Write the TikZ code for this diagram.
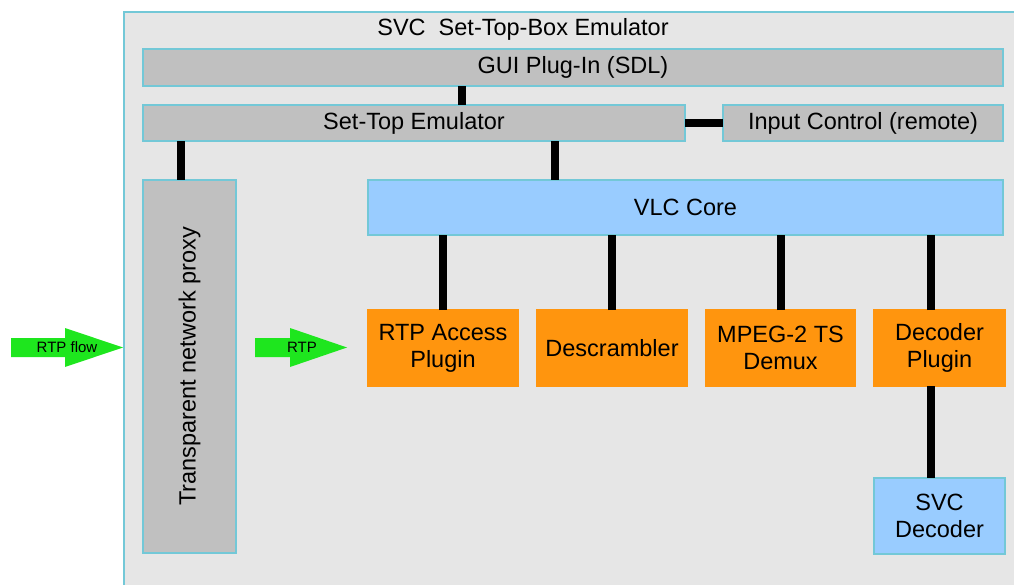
\documentclass[tikz,border=0pt]{standalone}
\usepackage{fontspec}
\setmainfont{Liberation Sans}
\usetikzlibrary{positioning}

\definecolor{bggray}{RGB}{230,230,230}
\definecolor{framecyan}{RGB}{115,200,215}
\definecolor{boxgray}{RGB}{192,192,192}
\definecolor{coreblue}{RGB}{153,204,255}
\definecolor{plugorange}{RGB}{255,149,14}
\definecolor{flowgreen}{RGB}{30,230,30}

\tikzset{
  block/.style={draw=framecyan,line width=1.2pt,inner sep=0pt,outer sep=0pt,align=center,
    font=\fontsize{23.5}{27}\selectfont},
  grayblock/.style={block,fill=boxgray},
  blueblock/.style={block,fill=coreblue},
  plugblock/.style={block,draw=plugorange,fill=plugorange},
  link/.style={line width=8pt},
  flow/.style={fill=flowgreen},
  flowtext/.style={font=\fontsize{15}{15}\selectfont}
}

\begin{document}
\begin{tikzpicture}[x=1pt,y=-1pt]
  \useasboundingbox (0,0) rectangle (1014,585);

  % Emulator frame
  \node [draw=framecyan,line width=1.2pt,fill=bggray,inner sep=0pt,outer sep=0pt,
    minimum width=906pt,minimum height=588pt,anchor=north west] (stb) at (124,12) {};
  \node [font=\fontsize{23.5}{27}\selectfont] (title) at (523,29) {SVC~~Set-Top-Box Emulator};

  % Upper layers
  \node [grayblock,minimum width=860pt,minimum height=37pt,anchor=north west] (gui) at (143,49) {GUI Plug-In (SDL)};
  \node [grayblock,minimum width=542pt,minimum height=36pt,below=19pt of gui.south west,anchor=north west] (settop) {Set-Top Emulator};
  \node [grayblock,minimum width=280pt,minimum height=36pt,right=38pt of settop] (input) {Input Control (remote)};

  % Proxy
  \node [grayblock,minimum width=93pt,minimum height=373pt,below=39pt of settop.south west,anchor=north west] (proxy) {};
  \node [rotate=90,font=\fontsize{23.5}{27}\selectfont] (proxylabel) at (proxy) {Transparent network proxy};

  % VLC
  \node [blueblock,minimum width=635pt,minimum height=55pt,right=132pt of proxy.north east,anchor=north west] (vlc) {VLC Core};
  \node [plugblock,minimum width=150pt,minimum height=76pt,below=75pt of vlc.south west,anchor=north west] (access) {RTP Access\\Plugin};
  \node [plugblock,minimum width=150pt,minimum height=76pt,right=19pt of access] (descr) {Descrambler};
  \node [plugblock,minimum width=149pt,minimum height=76pt,right=19pt of descr] (demux) {MPEG-2 TS\\Demux};
  \node [plugblock,minimum width=131pt,minimum height=76pt,right=19pt of demux] (decoder) {Decoder\\Plugin};
  \node [blueblock,minimum width=131pt,minimum height=76pt,below=92pt of decoder] (svc) {SVC\\Decoder};

  % Links
  \draw [link] ([xshift=319pt]settop.north west) -- ([xshift=319pt]settop.north west |- gui.south);
  \draw [link] (settop.east) -- (input.west);
  \draw [link] ([xshift=-9pt]proxy.north) -- ([xshift=-9pt]proxy.north |- settop.south);
  \draw [link] ([xshift=187pt]vlc.north west) -- ([xshift=187pt]vlc.north west |- settop.south);
  \draw [link] (access.north) -- (access.north |- vlc.south);
  \draw [link] (descr.north) -- (descr.north |- vlc.south);
  \draw [link] (demux.north) -- (demux.north |- vlc.south);
  \draw [link] ([xshift=-9pt]decoder.north) -- ([xshift=-9pt]decoder.north |- vlc.south);
  \draw [link] ([xshift=-9pt]decoder.south) -- ([xshift=-9pt]svc.north);

  % RTP flows
  \fill [flow] (11,338) -- (65,338) -- (65,328) -- (123,347.5) -- (65,367) -- (65,357) -- (11,357) -- cycle;
  \node [flowtext] (rtpflow) at (67,347.5) {RTP flow};
  \fill [flow] (255,338) -- (290,338) -- (290,328) -- (347,347.5) -- (290,367) -- (290,357) -- (255,357) -- cycle;
  \node [flowtext] (rtp) at (302,347.5) {RTP};

\end{tikzpicture}
\end{document}
